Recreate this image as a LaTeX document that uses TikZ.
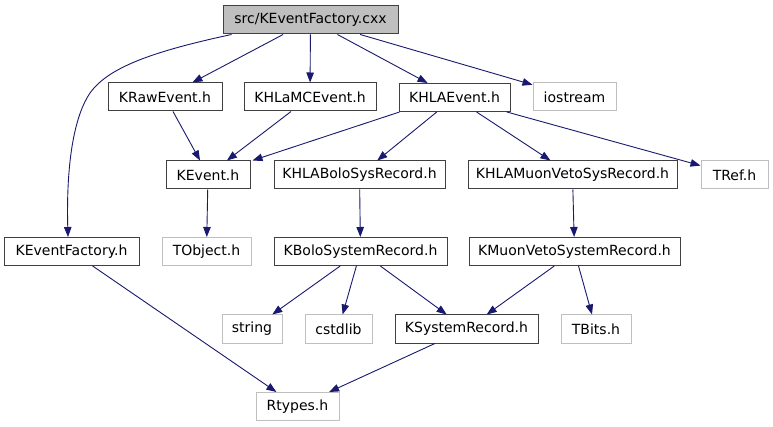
\documentclass[tikz,border=0pt]{standalone}
\usepackage{fontspec}
\setmainfont{DejaVu Sans}
\usetikzlibrary{arrows.meta}
\definecolor{edgecol}{HTML}{191970}
\definecolor{bordcol}{HTML}{404040}
\definecolor{graycol}{HTML}{BFBFBF}
\begin{document}
\begin{tikzpicture}[x=1pt,y=-1pt,
  box/.style={draw=bordcol, line width=1pt, fill=white, inner sep=0pt,
    minimum height=28pt, font=\fontsize{14}{16}\selectfont},
  gbox/.style={box, draw=graycol},
  topbox/.style={box, fill=graycol},
  edge/.style={draw=edgecol, line width=0.9pt,
    -{Triangle[length=10pt,width=7.5pt]}}]
\useasboundingbox (0,0) rectangle (773,427);
\fill[white] (0,0) rectangle (773,427);
% nodes
\node[topbox, minimum width=175pt] (cxx) at (310.5,20) {src/KEventFactory.cxx};
\node[box, minimum width=114pt] (raw) at (165,97) {KRawEvent.h};
\node[box, minimum width=132pt] (mc) at (310,97) {KHLaMCEvent.h};
\node[box, minimum width=111pt] (hla) at (454.5,97.5) {KHLAEvent.h};
\node[gbox, minimum width=83pt] (ios) at (574.5,97) {iostream};
\node[box, minimum width=84pt] (kev) at (208,175) {KEvent.h};
\node[box, minimum width=171pt] (hbolo) at (359.5,175) {KHLABoloSysRecord.h};
\node[box, minimum width=209pt] (hmuon) at (572.5,175) {KHLAMuonVetoSysRecord.h};
\node[gbox, minimum width=67pt] (tref) at (734.5,175) {TRef.h};
\node[box, minimum width=135pt] (kef) at (71.5,251.5) {KEventFactory.h};
\node[gbox, minimum width=89pt] (tobj) at (206.5,251.5) {TObject.h};
\node[box, minimum width=173pt] (bolo) at (360.5,251.5) {KBoloSystemRecord.h};
\node[box, minimum width=211pt] (muon) at (574.5,251.5) {KMuonVetoSystemRecord.h};
\node[gbox, minimum width=60pt] (str) at (252,329) {string};
\node[gbox, minimum width=67pt] (cstd) at (338.5,329) {cstdlib};
\node[box, minimum width=143pt] (sys) at (466.5,329) {KSystemRecord.h};
\node[gbox, minimum width=70pt] (tbits) at (596,329) {TBits.h};
\node[gbox, minimum width=83pt] (rt) at (297.5,406.5) {Rtypes.h};
% edges
\draw[edge] ([xshift=9pt]cxx.south west) .. controls (150,52) and (108,68) .. (90,93)
  .. controls (75,115) and (66,160) .. ([xshift=-3.5pt]kef.north);
\draw[edge] (cxx) -- (raw);
\draw[edge] (cxx) -- (mc);
\draw[edge] (cxx) -- (hla);
\draw[edge] (cxx) -- (ios);
\draw[edge] (raw) -- (kev);
\draw[edge] (mc) -- (kev);
\draw[edge] ([xshift=1pt]hla.south west) -- ([xshift=2pt]kev.north east);
\draw[edge] (hla) -- (hbolo);
\draw[edge] (hla) -- (hmuon);
\draw[edge] (hla) -- (tref);
\draw[edge] (kev) -- (tobj);
\draw[edge] (hbolo) -- (bolo);
\draw[edge] (hmuon) -- (muon);
\draw[edge] (kef) -- (rt);
\draw[edge] (bolo) -- (str);
\draw[edge] (bolo) -- (cstd);
\draw[edge] (bolo) -- (sys);
\draw[edge] (muon) -- (sys);
\draw[edge] (muon) -- (tbits);
\draw[edge] (sys) -- (rt);
\end{tikzpicture}
\end{document}
